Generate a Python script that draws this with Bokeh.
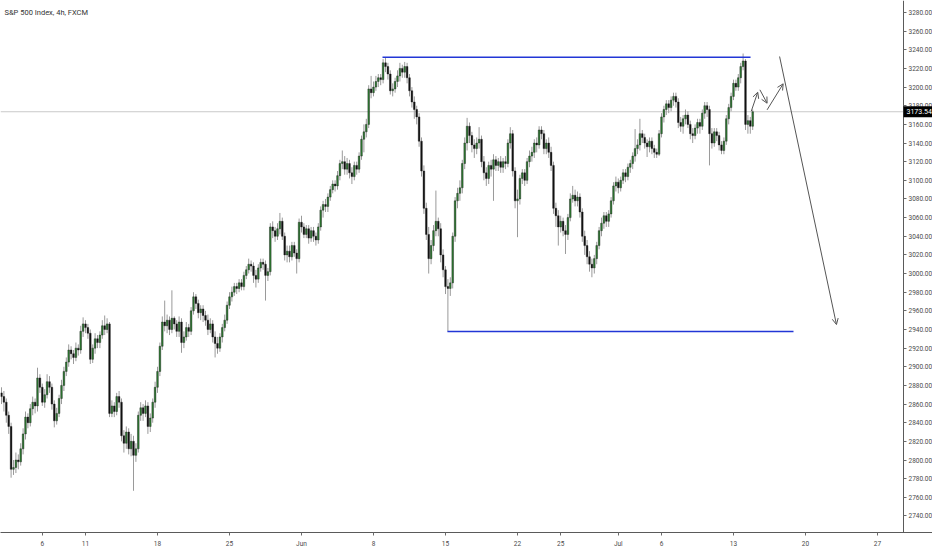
from bokeh.plotting import figure
from bokeh.models import (ColumnDataSource, Range1d, FixedTicker, SingleIntervalTicker,
                          PrintfTickFormatter, Span, Label, Arrow, OpenHead)
from bokeh.embed import file_html
from bokeh.resources import INLINE

# ---------------- data (S&P 500 Index, 4h bars, FXCM) ----------------
first_open = 2872
closes = [
    2868, 2862, 2848, 2836, 2790,
    2792, 2800, 2798, 2812, 2828, 2846, 2840, 2855, 2862, 2858,
    2888, 2878, 2862, 2870, 2884, 2878, 2860, 2842, 2850, 2866,
    2880, 2895, 2905, 2918, 2914, 2910, 2920, 2918, 2938, 2946,
    2942, 2936, 2908, 2920, 2930, 2926, 2934, 2944, 2940, 2946,
    2850, 2858, 2852, 2868, 2862, 2826, 2818, 2830, 2812, 2820,
    2805, 2812, 2848, 2856, 2850, 2858, 2836, 2845, 2862, 2878,
    2895, 2922, 2948, 2944, 2950, 2940, 2952, 2946, 2938, 2948,
    2926, 2932, 2942, 2938, 2960, 2975, 2968, 2958, 2962, 2955,
    2950, 2940, 2946, 2932, 2925, 2920, 2932, 2942, 2950, 2966,
    2975, 2980, 2986, 2984, 2990, 2986, 2998, 3004, 3010, 3008,
    2998, 2994, 3006, 3012, 3010, 2998, 3002, 3050, 3046, 3040,
    3048, 3056, 3040, 3020, 3024, 3018, 3030, 3022, 3016, 3055,
    3050, 3042, 3048, 3038, 3046, 3040, 3036, 3050, 3068, 3074,
    3072, 3082, 3090, 3096, 3094, 3105, 3118, 3120, 3112, 3118,
    3108, 3104, 3116, 3112, 3126, 3144, 3152, 3160, 3198, 3194,
    3200, 3206, 3210, 3208, 3226, 3222, 3214, 3196, 3198, 3206,
    3212, 3220, 3216, 3222, 3210, 3196, 3184, 3176, 3168, 3142,
    3110, 3070, 3042, 3016, 3030, 3046, 3056, 3048, 3020, 3004,
    2986, 2984, 2990, 3040, 3078, 3086, 3092, 3118, 3140, 3158,
    3148, 3138, 3134, 3140, 3144, 3120, 3108, 3102, 3116, 3112,
    3122, 3116, 3120, 3114, 3120, 3118, 3140, 3150, 3110, 3078,
    3080, 3102, 3108, 3100, 3120, 3126, 3130, 3140, 3138, 3154,
    3150, 3134, 3140, 3130, 3116, 3070, 3062, 3050, 3056, 3046,
    3042, 3060, 3080, 3084, 3078, 3082, 3066, 3040, 3030, 3018,
    3010, 3006, 3016, 3030, 3046, 3054, 3062, 3056, 3064, 3078,
    3094, 3098, 3092, 3100, 3108, 3104, 3114, 3118, 3126, 3134,
    3138, 3150, 3146, 3140, 3136, 3142, 3134, 3130, 3128, 3150,
    3168, 3176, 3182, 3178, 3186, 3190, 3184, 3162, 3158, 3166,
    3170, 3160, 3150, 3148, 3156, 3162, 3158, 3172, 3180, 3176,
    3150, 3140, 3152, 3148, 3138, 3132, 3142, 3166, 3178, 3190,
    3204, 3200, 3210, 3222, 3228, 3160, 3164, 3158, 3173.54,
]
highs = [
    2878, 2874, 2866, 2852, 2840,
    2800, 2808, 2806, 2818, 2834, 2852, 2850, 2860, 2868, 2866,
    2899, 2892, 2882, 2876, 2892, 2890, 2882, 2864, 2856, 2870,
    2886, 2900, 2910, 2924, 2922, 2918, 2926, 2924, 2944, 2953,
    2950, 2946, 2940, 2924, 2936, 2934, 2938, 2950, 2955, 2952,
    2948, 2864, 2862, 2872, 2874, 2866, 2832, 2836, 2834, 2828,
    2826, 2818, 2852, 2862, 2860, 2864, 2862, 2850, 2866, 2884,
    2900, 2926, 2954, 2971, 2956, 2954, 2982, 2954, 2950, 2954,
    2952, 2938, 2948, 2946, 2964, 2980, 2978, 2972, 2966, 2966,
    2960, 2956, 2952, 2950, 2938, 2932, 2936, 2946, 2956, 2970,
    2980, 2986, 2990, 2990, 2994, 2994, 3002, 3008, 3016, 3014,
    3012, 3004, 3010, 3016, 3016, 3014, 3006, 3054, 3056, 3050,
    3054, 3065, 3060, 3044, 3030, 3030, 3034, 3034, 3026, 3059,
    3062, 3054, 3052, 3052, 3050, 3050, 3044, 3054, 3072, 3078,
    3080, 3086, 3094, 3100, 3100, 3110, 3122, 3132, 3126, 3124,
    3122, 3114, 3120, 3120, 3130, 3148, 3160, 3166, 3202, 3212,
    3206, 3212, 3214, 3214, 3230, 3232, 3226, 3218, 3204, 3210,
    3218, 3226, 3224, 3227, 3226, 3214, 3200, 3190, 3180, 3172,
    3146, 3116, 3076, 3050, 3036, 3052, 3089, 3060, 3054, 3026,
    3008, 2994, 2996, 3044, 3082, 3092, 3100, 3122, 3146, 3167,
    3162, 3152, 3144, 3146, 3157, 3148, 3126, 3114, 3120, 3122,
    3128, 3126, 3124, 3126, 3124, 3126, 3144, 3157, 3154, 3114,
    3090, 3106, 3112, 3112, 3124, 3132, 3136, 3144, 3146, 3158,
    3158, 3154, 3144, 3146, 3136, 3120, 3076, 3068, 3062, 3060,
    3052, 3064, 3086, 3094, 3090, 3088, 3086, 3070, 3046, 3036,
    3024, 3016, 3020, 3034, 3050, 3060, 3066, 3066, 3068, 3082,
    3098, 3104, 3102, 3104, 3112, 3112, 3118, 3122, 3130, 3155,
    3144, 3166, 3154, 3150, 3144, 3146, 3146, 3138, 3134, 3154,
    3172, 3180, 3186, 3186, 3190, 3194, 3194, 3188, 3168, 3170,
    3176, 3174, 3164, 3156, 3160, 3166, 3166, 3176, 3184, 3184,
    3180, 3156, 3156, 3156, 3152, 3142, 3146, 3170, 3182, 3194,
    3208, 3208, 3214, 3226, 3236, 3230, 3170, 3168, 3176,
]
lows = [
    2860, 2852, 2840, 2828, 2781,
    2784, 2786, 2790, 2794, 2806, 2822, 2834, 2836, 2848, 2850,
    2852, 2872, 2858, 2856, 2866, 2872, 2854, 2835, 2838, 2846,
    2860, 2874, 2890, 2900, 2908, 2903, 2906, 2912, 2914, 2932,
    2936, 2930, 2903, 2904, 2914, 2920, 2920, 2930, 2934, 2936,
    2846, 2846, 2846, 2848, 2856, 2820, 2808, 2812, 2806, 2804,
    2767, 2798, 2808, 2842, 2842, 2846, 2828, 2830, 2840, 2856,
    2872, 2890, 2918, 2938, 2936, 2934, 2936, 2940, 2932, 2932,
    2915, 2920, 2928, 2932, 2934, 2956, 2962, 2952, 2950, 2948,
    2944, 2934, 2936, 2926, 2910, 2914, 2916, 2926, 2938, 2946,
    2962, 2970, 2976, 2978, 2980, 2982, 2982, 2994, 3000, 3002,
    2990, 2985, 2990, 3002, 3004, 2971, 2992, 2998, 3038, 3034,
    3036, 3042, 3036, 3014, 3012, 3012, 3014, 3018, 3000, 3012,
    3044, 3038, 3038, 3032, 3034, 3034, 3030, 3032, 3046, 3060,
    3066, 3066, 3078, 3086, 3088, 3090, 3100, 3112, 3106, 3106,
    3102, 3096, 3100, 3106, 3108, 3122, 3130, 3146, 3156, 3188,
    3190, 3196, 3200, 3202, 3204, 3216, 3208, 3192, 3190, 3194,
    3200, 3206, 3210, 3210, 3204, 3190, 3178, 3166, 3160, 3136,
    3104, 3064, 3036, 3000, 3010, 3024, 3040, 3040, 3012, 2996,
    2978, 2938, 2976, 2984, 3034, 3070, 3078, 3086, 3112, 3132,
    3140, 3130, 3124, 3128, 3134, 3114, 3100, 3094, 3096, 3104,
    3078, 3110, 3110, 3108, 3108, 3112, 3114, 3134, 3104, 3070,
    3039, 3074, 3096, 3094, 3096, 3114, 3120, 3124, 3130, 3134,
    3144, 3128, 3128, 3124, 3110, 3064, 3050, 3030, 3044, 3040,
    3021, 3036, 3056, 3076, 3072, 3072, 3060, 3034, 3020, 3010,
    3002, 2996, 3000, 3010, 3026, 3040, 3048, 3050, 3050, 3060,
    3074, 3088, 3086, 3088, 3096, 3098, 3100, 3108, 3112, 3120,
    3128, 3132, 3140, 3134, 3125, 3130, 3128, 3124, 3124, 3126,
    3146, 3162, 3170, 3172, 3174, 3180, 3178, 3156, 3152, 3150,
    3160, 3156, 3144, 3140, 3144, 3150, 3150, 3154, 3166, 3168,
    3116, 3134, 3136, 3142, 3132, 3128, 3128, 3138, 3160, 3174,
    3186, 3196, 3196, 3204, 3218, 3154, 3150, 3150, 3154,
]
first_bar = -5          # bar index of first candle (0 = first bar of Mon 4 May)

x_tick_bars = [12, 30, 60, 90, 120, 150, 180, 210, 228, 252, 270, 300, 330, 360]
x_tick_labels = ["6", "11", "18", "25", "Jun", "8", "15", "22", "25", "Jul", "6", "13", "20", "27"]

last_price = 3173.54
resistance = {"x0": 153.75, "x1": 307.1, "y": 3232.0}
support = {"x0": 180.8, "x1": 325.0, "y": 2937.8}

arrow_x0 = [307.4, 311.0, 314.0, 319.2]
arrow_y0 = [3174.1, 3197.1, 3175.6, 3232.8]
arrow_x1 = [310.1, 314.0, 320.7, 342.9]
arrow_y1 = [3194.5, 3182.7, 3203.5, 2945.3]

# ---------------- build ----------------
n = min(len(closes), len(highs), len(lows))
xs = [first_bar + i for i in range(n)]
opens = [first_open] + closes[:n - 1]
up_col, dn_col = "#2e7d32", "#111111"
src = ColumnDataSource(dict(
    x=xs, high=highs[:n], low=lows[:n],
    top=[max(o, c) for o, c in zip(opens, closes[:n])],
    bottom=[min(o, c) for o, c in zip(opens, closes[:n])],
    fill=[up_col if c >= o else dn_col for o, c in zip(opens, closes[:n])],
))

X_AXIS_AT = 370.833     # bar position of the price scale (right edge of chart area)
p = figure(width=932, height=550, output_backend="svg", toolbar_location=None,
           x_range=Range1d(-5.417, 382.917), y_range=Range1d(2722.24, 3292.87),
           y_axis_location="right", min_border_left=0, min_border_top=0,
           min_border_right=0, min_border_bottom=18)
p.outline_line_color = None
p.xgrid.visible = False
p.ygrid.visible = False
p.background_fill_color = "white"

FONT = "Roboto"
for ax in (p.xaxis[0], p.yaxis[0]):
    ax.axis_line_color = "#5a5a5a"
    ax.major_tick_line_color = "#6a6a6a"
    ax.minor_tick_line_color = None
    ax.major_tick_in = 0
    ax.major_tick_out = 3
    ax.major_label_text_font = FONT
    ax.major_label_text_font_size = "6.5px"
    ax.major_label_text_color = "#4a4a4a"

p.xaxis.ticker = FixedTicker(ticks=x_tick_bars)
p.xaxis.major_label_overrides = {b: l for b, l in zip(x_tick_bars, x_tick_labels)}
p.xaxis.major_label_standoff = 4
p.yaxis.ticker = SingleIntervalTicker(interval=20, num_minor_ticks=0)
p.yaxis.formatter = PrintfTickFormatter(format="%.2f")
p.yaxis.major_label_standoff = 2
p.yaxis.fixed_location = X_AXIS_AT

# last price line
p.segment(x0=[-5.417], y0=[last_price], x1=[X_AXIS_AT], y1=[last_price],
          line_color="#c9c9c9", line_width=1)

# candles
p.segment(x0="x", y0="low", x1="x", y1="high", source=src, line_color="#9a9a9a", line_width=1)
p.vbar(x="x", top="top", bottom="bottom", width=0.7, source=src,
       fill_color="fill", line_color="#1a1a1a", line_width=0.4)

# horizontal levels
p.segment(x0=[resistance["x0"], support["x0"]], y0=[resistance["y"], support["y"]],
          x1=[resistance["x1"], support["x1"]], y1=[resistance["y"], support["y"]],
          line_color="#2236d6", line_width=1.5)

# drawn arrows
asrc = ColumnDataSource(dict(x0=arrow_x0, y0=arrow_y0, x1=arrow_x1, y1=arrow_y1))
p.add_layout(Arrow(x_start="x0", y_start="y0", x_end="x1", y_end="y1", source=asrc,
                   line_color="#555555", line_width=1,
                   end=OpenHead(size=6, line_color="#555555", line_width=1)))

# title
p.add_layout(Label(x=4, x_units="screen", y=3280, y_units="data",
                   text="S&P 500 Index, 4h, FXCM", text_font=FONT, text_font_size="7.5px",
                   text_color="#333333", text_baseline="middle", text_align="left"))

# last price tag on the axis
p.add_layout(Label(x=X_AXIS_AT, x_units="data", y=last_price, y_units="data",
                   text=f"{last_price:.2f}", text_font=FONT, text_font_size="7px",
                   text_color="white", text_baseline="middle", level="overlay",
                   text_align="left", background_fill_color="black", padding=3))

open("out.html", "w").write(file_html(p, INLINE))
